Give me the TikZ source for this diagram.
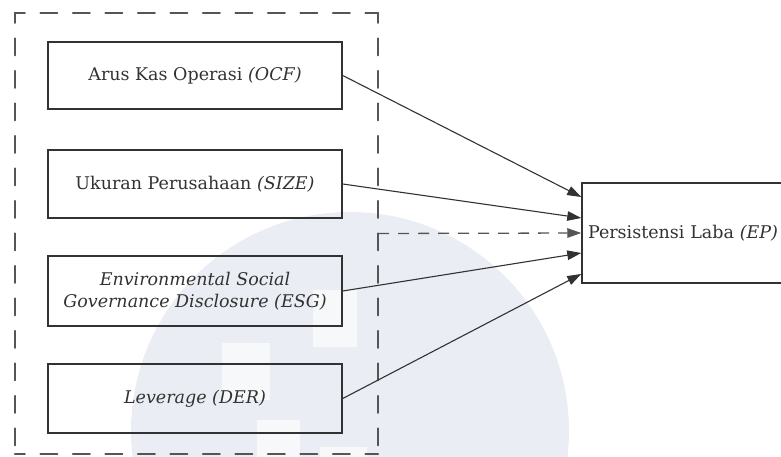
\documentclass[tikz,border=0pt]{standalone}
\usepackage{fontspec}
\setmainfont{DejaVu Serif}
\usetikzlibrary{arrows.meta}
\definecolor{ink}{RGB}{50,50,50}
\definecolor{dashink}{RGB}{85,85,85}
\definecolor{wm}{RGB}{234,237,243}
\tikzset{
  varbox/.style={draw=ink, line width=1.5pt, fill=white, fill opacity=0, text opacity=1, minimum width=294pt, inner sep=0pt, align=center, font=\fontsize{17.5}{22}\selectfont, text=ink},
  grpside/.style={draw=dashink, line width=2pt, line cap=round, dash pattern=on 17pt off 15.5pt, dash phase=7pt},
  link/.style={draw=ink, line width=1.1pt, -{Triangle[length=14pt,width=9.5pt]}},
  dashlink/.style={draw=dashink, line width=1.3pt, dash pattern=on 11pt off 9pt, -{Triangle[length=14pt,width=9.5pt]}},
}
\begin{document}
\begin{tikzpicture}[x=1pt,y=-1pt]
\useasboundingbox (0,0) rectangle (781,457);
% faint watermark
\begin{scope}
\clip (0,0) rectangle (781,457);
\fill[wm] (350,431) circle (219);
\fill[white!60!wm] (222,343) rectangle (270,400);
\fill[white!60!wm] (313,290) rectangle (357,347);
\fill[white!60!wm] (257,420) rectangle (300,457);
\fill[white!60!wm] (320,447) rectangle (367,457);
\end{scope}
\node[minimum width=363pt, minimum height=441pt, inner sep=0pt] (grp) at (196.5,233.5) {};
\draw[grpside] (grp.north west) -- (grp.north east);
\draw[grpside] (grp.north east) -- (grp.south east);
\draw[grpside] (grp.north west) -- (grp.south west);
\draw[grpside] (grp.south west) -- (grp.south east);
\node[varbox, minimum height=67pt] (ocf) at (195,75.5) {Arus Kas Operasi \textit{(OCF)}};
\node[varbox, minimum height=68pt] (size) at (195,184) {Ukuran Perusahaan \textit{(SIZE)}};
\node[varbox, minimum height=70pt] (esg) at (195,291) {\textit{Environmental Social}\\\textit{Governance Disclosure (ESG)}};
\node[varbox, minimum height=69pt] (der) at (195,398.5) {\textit{Leverage (DER)}};
\node[varbox, minimum height=100pt, minimum width=212pt, text width=200pt, align=left] (ep) at (688,233) {Persistensi Laba \textit{(EP)}};
\draw[link] (ocf.east) -- ([yshift=36pt]ep.west);
\draw[link] (size.east) -- ([yshift=15pt]ep.west);
\draw[dashlink] (grp.east) -- (ep.west);
\draw[link] (esg.east) -- ([yshift=-20pt]ep.west);
\draw[link] (der.east) -- ([yshift=-41pt]ep.west);
\end{tikzpicture}
\end{document}
